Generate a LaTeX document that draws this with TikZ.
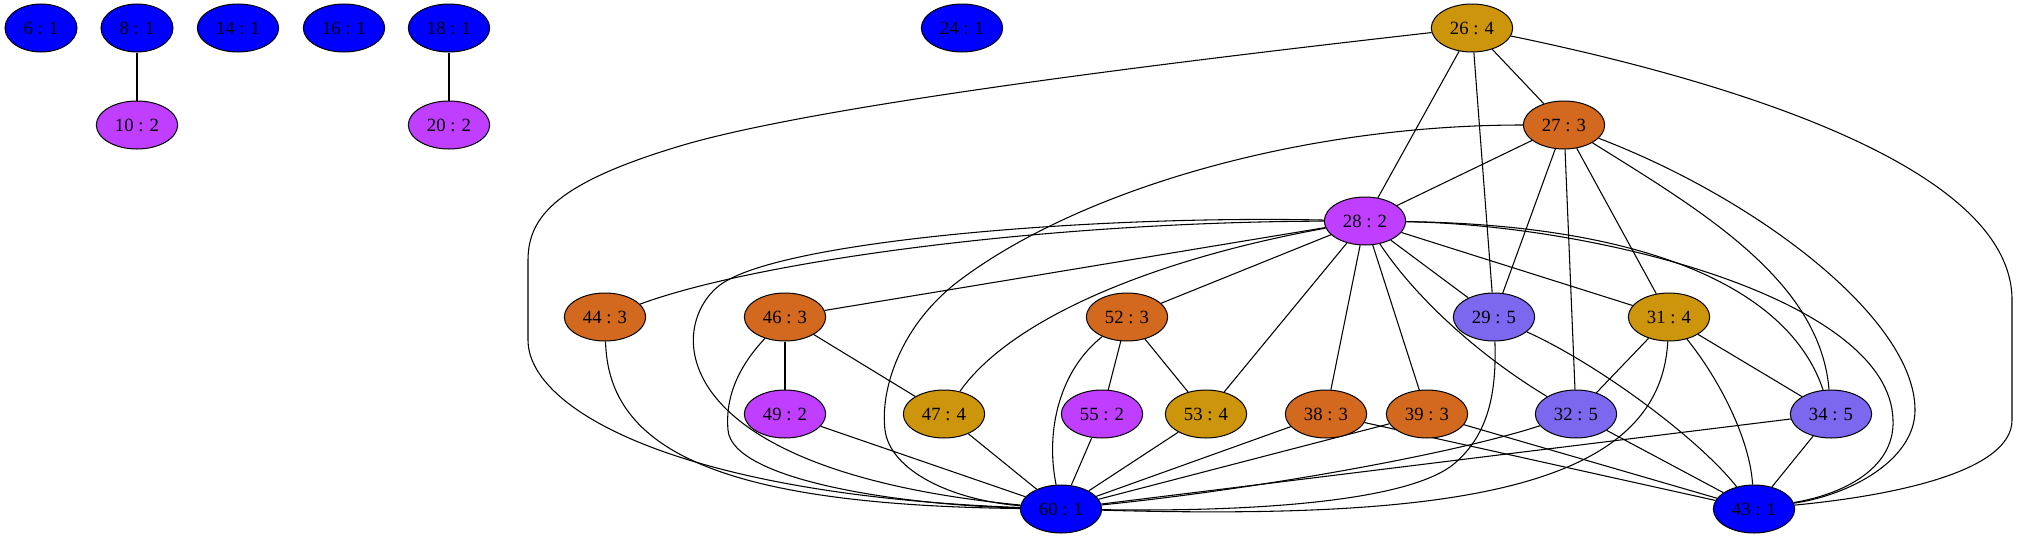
\documentclass[tikz,border=0pt]{standalone}
\usepackage{fontspec}
\setmainfont{Liberation Serif}
\usetikzlibrary{shapes.geometric,backgrounds}
\definecolor{cBlue}{HTML}{0000FF}
\definecolor{cPur}{HTML}{BF3EFF}
\definecolor{cOra}{HTML}{D2691E}
\definecolor{cGol}{HTML}{CD950C}
\definecolor{cLav}{HTML}{7B68EE}
\tikzset{
  nd/.style={ellipse, draw=black, line width=0.75pt, minimum width=61pt, minimum height=36pt, inner sep=0pt, font=\fontsize{14}{16}\selectfont},
  sm/.style={minimum width=54pt},
  k1/.style={nd, fill=cBlue},
  k2/.style={nd, fill=cPur},
  k3/.style={nd, fill=cOra},
  k4/.style={nd, fill=cGol},
  k5/.style={nd, fill=cLav},
  ed/.style={draw=black, line width=0.8pt}
}
\begin{document}
\begin{tikzpicture}[x=0.75pt, y=-0.75pt]
\useasboundingbox (0,0) rectangle (2019,539);
% row 1
\node[k1, sm] (n6) at (41,28) {6 : 1};
\node[k1, sm] (n8) at (137,28) {8 : 1};
\node[k1] (n14) at (238,28) {14 : 1};
\node[k1] (n16) at (344,28) {16 : 1};
\node[k1] (n18) at (449,28) {18 : 1};
\node[k1] (n24) at (962,28) {24 : 1};
\node[k4] (n26) at (1472,28) {26 : 4};
% row 2
\node[k2] (n10) at (137,125) {10 : 2};
\node[k2] (n20) at (449,125) {20 : 2};
\node[k3] (n27) at (1564,125) {27 : 3};
% row 3
\node[k2] (n28) at (1365,221) {28 : 2};
% row 4
\node[k3] (n44) at (605,317) {44 : 3};
\node[k3] (n46) at (785,317) {46 : 3};
\node[k3] (n52) at (1127,317) {52 : 3};
\node[k5] (n29) at (1494,317) {29 : 5};
\node[k4] (n31) at (1669,317) {31 : 4};
% row 5
\node[k2] (n49) at (785,414) {49 : 2};
\node[k4] (n47) at (944,414) {47 : 4};
\node[k2] (n55) at (1102,414) {55 : 2};
\node[k4] (n53) at (1206,414) {53 : 4};
\node[k3] (n38) at (1326,414) {38 : 3};
\node[k3] (n39) at (1427,414) {39 : 3};
\node[k5] (n32) at (1576,414) {32 : 5};
\node[k5] (n34) at (1831,414) {34 : 5};
% row 6
\node[k1] (n60) at (1061,509) {60 : 1};
\node[k1] (n43) at (1754,509) {43 : 1};

% edges
\begin{scope}[on background layer]
\begin{scope}[ed]
\draw[ed] (n8) -- (n10);
\draw[ed] (n18) -- (n20);
\draw[ed] (n26) .. controls (1100,70) and (800,110) .. (680,146) .. controls (560,182) and (528,215) .. (528,260) -- (528,340) .. controls (528,410) and (680,495) .. (n60);
\draw[ed] (n26) -- (n27);
\draw[ed] (n26) -- (n28);
\draw[ed] (n26) -- (n29);
\draw[ed] (n26) .. controls (1700,75) and (2012,160) .. (2012,300) -- (2012,420) .. controls (2012,470) and (1900,495) .. (n43);
\draw[ed] (n27) -- (n28);
\draw[ed] (n27) .. controls (1300,125) and (1080,190) .. (960,280) .. controls (900,325) and (880,390) .. (885,430) .. controls (890,470) and (950,500) .. (n60);
\draw[ed] (n27) -- (n29);
\draw[ed] (n27) -- (n32);
\draw[ed] (n27) -- (n31);
\draw[ed] (n27) .. controls (1700,210) and (1820,280) .. (n34);
\draw[ed] (n27) .. controls (1760,200) and (1915,320) .. (1915,410) .. controls (1915,460) and (1850,495) .. (n43);
\draw[ed] (n28) .. controls (1050,222) and (760,260) .. (n44);
\draw[ed] (n28) .. controls (1100,215) and (780,240) .. (720,285) .. controls (667,325) and (660,470) .. (n60);
\draw[ed] (n28) -- (n46);
\draw[ed] (n28) .. controls (1150,260) and (1010,320) .. (n47);
\draw[ed] (n28) -- (n52);
\draw[ed] (n28) -- (n53);
\draw[ed] (n28) -- (n38);
\draw[ed] (n28) -- (n39);
\draw[ed] (n28) -- (n29);
\draw[ed] (n28) .. controls (1410,290) and (1470,350) .. (n32);
\draw[ed] (n28) -- (n31);
\draw[ed] (n28) .. controls (1650,225) and (1790,290) .. (n34);
\draw[ed] (n28) .. controls (1600,225) and (1890,300) .. (1893,420) .. controls (1895,470) and (1840,495) .. (n43);
\draw[ed] (n44) .. controls (608,450) and (720,505) .. (n60);
\draw[ed] (n46) -- (n49);
\draw[ed] (n46) -- (n47);
\draw[ed] (n46) .. controls (740,365) and (725,395) .. (728,430) .. controls (732,480) and (900,505) .. (n60);
\draw[ed] (n52) -- (n55);
\draw[ed] (n52) -- (n53);
\draw[ed] (n52) .. controls (1060,370) and (1045,430) .. (n60);
\draw[ed] (n49) -- (n60);
\draw[ed] (n47) -- (n60);
\draw[ed] (n55) -- (n60);
\draw[ed] (n53) -- (n60);
\draw[ed] (n38) -- (n60);
\draw[ed] (n38) -- (n43);
\draw[ed] (n39) -- (n60);
\draw[ed] (n39) -- (n43);
\draw[ed] (n29) .. controls (1497,400) and (1485,437) .. (1455,463) .. controls (1410,502) and (1250,512) .. (n60);
\draw[ed] (n29) .. controls (1600,365) and (1700,440) .. (n43);
\draw[ed] (n31) -- (n32);
\draw[ed] (n31) -- (n34);
\draw[ed] (n31) .. controls (1660,490) and (1450,520) .. (n60);
\draw[ed] (n31) .. controls (1720,380) and (1750,440) .. (n43);
\draw[ed] (n32) .. controls (1450,455) and (1250,490) .. (n60);
\draw[ed] (n32) -- (n43);
\draw[ed] (n34) -- (n60);
\draw[ed] (n34) -- (n43);
\end{scope}
\end{scope}
\end{tikzpicture}
\end{document}
